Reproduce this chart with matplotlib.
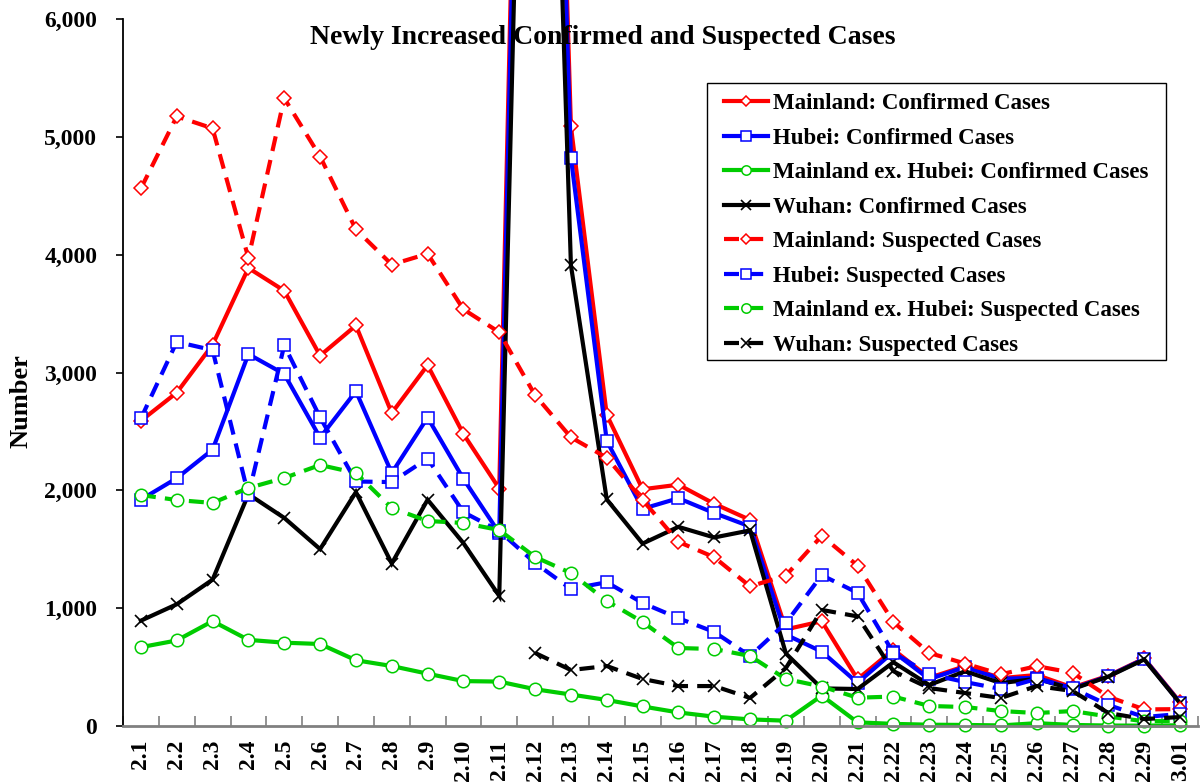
import numpy as np
import matplotlib
matplotlib.use("Agg")
import matplotlib.pyplot as plt
from matplotlib.ticker import FuncFormatter, FixedLocator
from matplotlib.patches import Rectangle

dates = ['2.1', '2.2', '2.3', '2.4', '2.5', '2.6', '2.7', '2.8', '2.9', '2.10',
         '2.11', '2.12', '2.13', '2.14', '2.15', '2.16', '2.17', '2.18', '2.19', '2.20',
         '2.21', '2.22', '2.23', '2.24', '2.25', '2.26', '2.27', '2.28', '2.29', '3.01']

mainland_conf = [2590, 2829, 3235, 3887, 3694, 3143, 3399, 2656, 3062, 2478,
                 2015, 15152, 5090, 2641, 2009, 2048, 1886, 1749, 820, 889,
                 397, 648, 409, 508, 406, 433, 327, 427, 573, 202]
hubei_conf = [1921, 2103, 2345, 3156, 2987, 2447, 2841, 2147, 2618, 2097,
              1638, 14840, 4823, 2420, 1843, 1933, 1807, 1693, 775, 631,
              366, 630, 398, 499, 401, 409, 318, 423, 570, 196]
exhubei_conf = [669, 726, 890, 731, 707, 696, 558, 509, 444, 381,
                377, 312, 267, 221, 166, 115, 79, 56, 45, 258,
                31, 18, 11, 9, 5, 24, 9, 4, 3, 6]
wuhan_conf = [894, 1033, 1242, 1967, 1766, 1501, 1985, 1379, 1920, 1552,
              1104, 13436, 3910, 1923, 1548, 1690, 1600, 1660, 615, 319,
              314, 541, 348, 464, 364, 401, 313, 420, 565, 193]

mainland_susp = [4562, 5173, 5072, 3971, 5328, 4833, 4214, 3916, 4008, 3536,
                 3342, 2807, 2450, 2277, 1918, 1563, 1432, 1185, 1277, 1614,
                 1361, 882, 620, 530, 439, 508, 452, 248, 141, 143]
hubei_susp = [2610, 3260, 3190, 1960, 3230, 2620, 2075, 2070, 2270, 1815,
              1655, 1383, 1163, 1220, 1044, 915, 798, 594, 875, 1280,
              1130, 620, 440, 373, 314, 400, 320, 178, 76, 102]
exhubei_susp = [1960, 1918, 1893, 2020, 2105, 2215, 2147, 1850, 1740, 1723,
                1663, 1434, 1298, 1061, 883, 662, 653, 594, 399, 335,
                240, 250, 170, 161, 127, 110, 127, 80, 40, 45]
wuhan_susp = [np.nan] * 11 + [620, 475, 509, 399, 339, 339, 238, 492, 985,
                              930, 465, 322, 280, 238, 339, 297, 110, 59, 76]

series = [
    ("Mainland: Confirmed Cases", mainland_conf, "#FF0000", "D", "-"),
    ("Hubei: Confirmed Cases", hubei_conf, "#0000FF", "s", "-"),
    ("Mainland ex. Hubei: Confirmed Cases", exhubei_conf, "#00CC00", "o", "-"),
    ("Wuhan: Confirmed Cases", wuhan_conf, "#000000", "x", "-"),
    ("Mainland: Suspected Cases", mainland_susp, "#FF0000", "D", "--"),
    ("Hubei: Suspected Cases", hubei_susp, "#0000FF", "s", "--"),
    ("Mainland ex. Hubei: Suspected Cases", exhubei_susp, "#00CC00", "o", "--"),
    ("Wuhan: Suspected Cases", wuhan_susp, "#000000", "x", "--"),
]

serif = ["Liberation Serif", "DejaVu Serif"]
plt.rcParams['font.family'] = serif
plt.rcParams['font.weight'] = 'bold'

W, H = 1200, 783
fig = plt.figure(figsize=(12, 7.83), dpi=100)
ax = fig.add_axes([123 / W, 1 - 726 / H, (1198 - 123) / W, (726 - 19) / H])

x = np.arange(len(dates))
msizes = {"D": 7, "s": 9, "o": 9, "x": 9}
for label, vals, col, mk, ls in series:
    style = ls if ls == "-" else (0, (3.6, 2.2))
    if mk == "x":
        mfc = col
        mew = 1.2
    else:
        mfc = "white"
        mew = 1.1
    ax.plot(x, vals, color=col, linestyle=style, linewidth=3.0,
            marker=mk, markersize=msizes[mk], markerfacecolor=mfc,
            markeredgecolor=col, markeredgewidth=mew, label=label,
            clip_on=False, solid_joinstyle='miter', dash_capstyle='butt')

ax.set_xlim(-0.5, len(dates) - 0.5)
ax.set_ylim(0, 6000)
ax.set_yticks(np.arange(0, 6001, 1000))
ax.yaxis.set_major_formatter(FuncFormatter(lambda v, p: f"{int(v):,}"))
ax.set_xticks(x)
ax.set_xticklabels(dates, rotation=90, fontsize=17, fontweight='bold')
ax.xaxis.set_minor_locator(FixedLocator(np.arange(-0.5, len(dates), 1.0)))
ax.tick_params(axis='x', which='major', length=0, pad=10)
ax.tick_params(axis='x', which='minor', direction='in', length=7, width=1.2, color='#808080')
ax.tick_params(axis='y', which='major', direction='out', length=5, width=1.2,
               labelsize=17, pad=13.5)
for lab in ax.get_yticklabels():
    lab.set_fontweight('bold')
for lab in ax.get_xticklabels():
    lab.set_va('top')

ax.spines['top'].set_visible(False)
ax.spines['right'].set_visible(False)
ax.spines['left'].set_linewidth(1.3)
ax.spines['bottom'].set_linewidth(2.0)
ax.spines['bottom'].set_color('#808080')

ax.set_ylabel("Number", fontsize=19, fontweight='bold')
ax.yaxis.set_label_coords(-0.084, 0.46)

fig.text(603 / W, 1 - 38 / H, "Newly Increased Confirmed and Suspected Cases",
         ha='center', va='center', fontsize=20, fontweight='bold')

# legend frame drawn separately, inside the axes draw order
frame = Rectangle((707 / W, 1 - 360 / H), (1166 - 707) / W, (360 - 83) / H,
                  transform=fig.transFigure, facecolor='white', edgecolor='black',
                  linewidth=1.0, zorder=4, clip_on=False)
ax.add_patch(frame)

leg = ax.legend(loc='upper left', bbox_to_anchor=(724 / W, 1 - 93 / H),
                bbox_transform=fig.transFigure, fontsize=16.5, frameon=False,
                handlelength=1.9, handletextpad=0.25, labelspacing=0.59,
                borderpad=0, borderaxespad=0, markerscale=0.75)
leg.set_zorder(6)
for t in leg.get_texts():
    t.set_fontweight('bold')

fig.savefig("out.png", dpi=100)
